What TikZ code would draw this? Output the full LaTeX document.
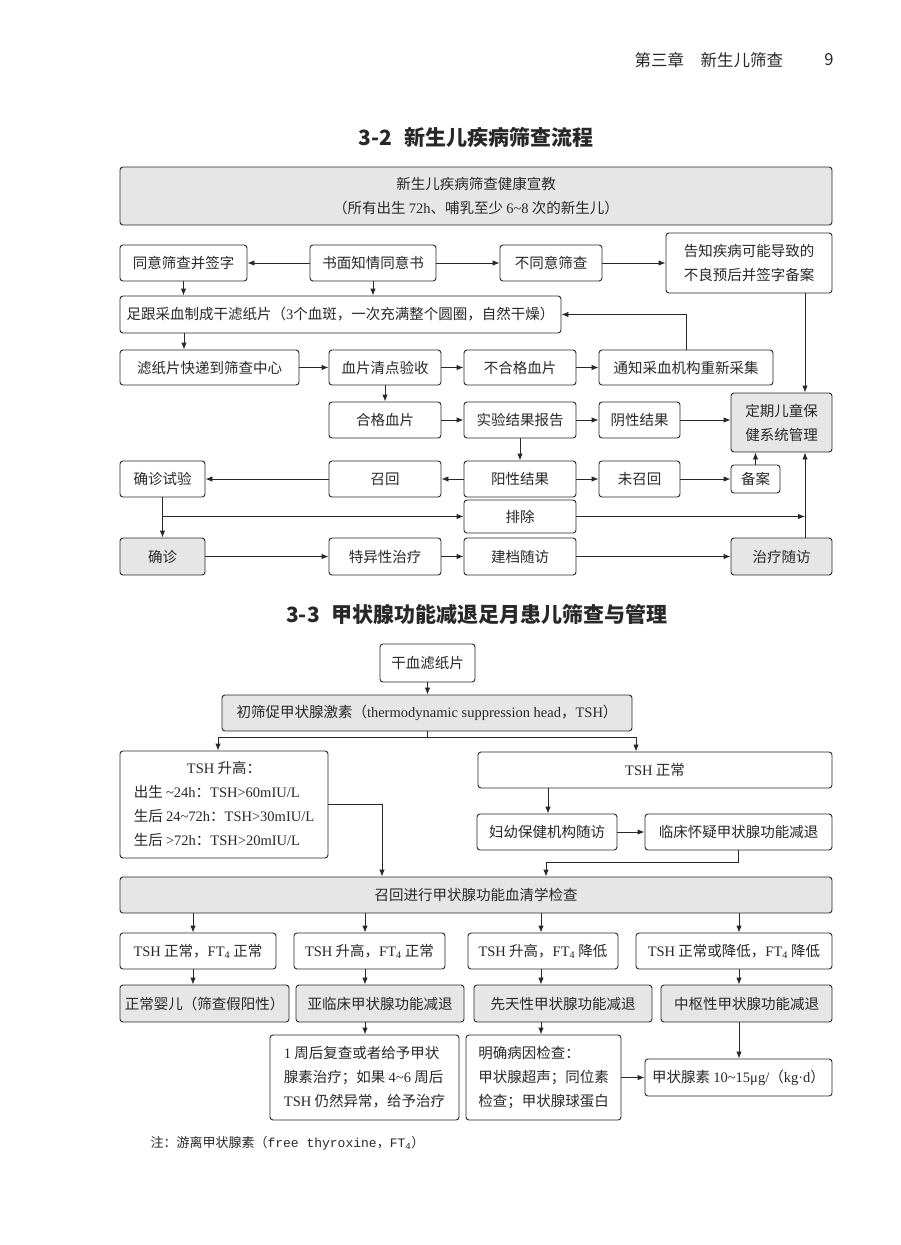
\documentclass[tikz,border=0pt]{standalone}
\usepackage{fontspec}
\setmainfont{Noto Sans CJK SC}
\newfontfamily\lat{Liberation Serif}
\newfontfamily\mono{Liberation Mono}
\usetikzlibrary{arrows.meta}
\definecolor{boxgray}{RGB}{230,230,230}
\definecolor{ink}{RGB}{40,40,40}
\newcommand\bx[7]{\node[#6,minimum width={(#4)-(#2)},minimum height={(#5)-(#3)}] (#1) at ({((#2)+(#4))/2},{((#3)+(#5))/2}) {#7};}
\begin{document}
\begin{tikzpicture}[x=1pt,y=-1pt,
  box/.style={draw=ink,line width=0.9pt,rounded corners=3pt,fill=white,inner sep=2pt,
    font=\fontsize{14.5}{24}\selectfont,text=ink,align=center},
  gbox/.style={box,fill=boxgray},
  lbox/.style={box,align=left},
  arr/.style={draw=ink,line width=0.9pt,-{Latex[length=7pt,width=5.5pt]}},
  plain/.style={draw=ink,line width=0.9pt},
  ttl/.style={font=\bfseries\fontsize{21}{25}\selectfont,text=ink},
  hdrtext/.style={font=\fontsize{16.5}{20}\selectfont,text=ink}]
\fill[white] (0,0) rectangle (900,1245);
\useasboundingbox (0,0) rectangle (900,1245);
% helper x positions
\coordinate (x184) at (184,0);
\coordinate (x805) at (805,0);
\coordinate (x218) at (218,0);
\coordinate (x636) at (636,0);
\coordinate (x548) at (548,0);
\coordinate (x382) at (382,0);
\coordinate (c1) at (193,0);
\coordinate (c2) at (365,0);
\coordinate (c3) at (541,0);
\coordinate (c4) at (739,0);
% header
\node[hdrtext,anchor=west] (hdr) at (631,60) {第三章　新生儿筛查};
\node[hdrtext] (pg) at (829,60) {9};
% titles
\node[ttl] (title1) at (476,138) {3-2\hspace{12pt}新生儿疾病筛查流程};
\node[ttl] (title2) at (477,614) {3-3\hspace{12pt}甲状腺功能减退足月患儿筛查与管理};
% ---------- section 1 ----------
\bx{edu}{120}{167}{832}{225}{gbox}{新生儿疾病筛查健康宣教\\（所有出生 {\lat 72h}、哺乳至少 {\lat 6\textasciitilde 8} 次的新生儿）}
\bx{agree}{120}{245}{247}{281}{box}{同意筛查并签字}
\bx{consent}{310}{245}{436}{281}{box}{书面知情同意书}
\bx{disagree}{500}{245}{602}{281}{box}{不同意筛查}
\bx{inform}{666}{233}{832}{293}{box}{告知疾病可能导致的\\不良预后并签字备案}
\bx{heel}{120}{296}{561}{333}{box}{足跟采血制成干滤纸片（{\lat 3}个血斑，一次充满整个圆圈，自然干燥）}
\bx{express}{120}{350}{299}{385}{box}{滤纸片快递到筛查中心}
\bx{check}{329}{350}{441}{385}{box}{血片清点验收}
\bx{unq}{464}{350}{576}{385}{box}{不合格血片}
\bx{notify}{599}{350}{773}{385}{box}{通知采血机构重新采集}
\bx{qual}{329}{402}{441}{438}{box}{合格血片}
\bx{report}{464}{402}{576}{438}{box}{实验结果报告}
\bx{neg}{599}{402}{680}{438}{box}{阴性结果}
\bx{manage}{731}{393}{832}{452}{gbox}{定期儿童保\\健系统管理}
\bx{ctest}{120}{461}{205}{497}{box}{确诊试验}
\bx{recall}{329}{461}{441}{497}{box}{召回}
\bx{pos}{464}{461}{576}{497}{box}{阳性结果}
\bx{norecall}{599}{461}{680}{497}{box}{未召回}
\bx{record}{731}{465}{780}{493}{box}{备案}
\bx{exclude}{464}{500}{576}{533}{box}{排除}
\bx{diag}{120}{538}{205}{575}{gbox}{确诊}
\bx{spec}{329}{538}{441}{575}{box}{特异性治疗}
\bx{follow}{464}{538}{576}{575}{box}{建档随访}
\bx{treat}{731}{538}{832}{575}{gbox}{治疗随访}
% connectors section 1
\draw[arr] (consent.west) -- (agree.east);
\draw[arr] (consent.east) -- (disagree.west);
\draw[arr] (disagree.east) -- (inform.west |- disagree.east);
\draw[arr] (agree.south) -- (agree.south |- heel.north);
\draw[arr] (consent.south) -- (consent.south |- heel.north);
\draw[arr] (inform.south -| x805) -- (manage.north -| x805);
\draw[arr] (notify.north) |- (heel.east);
\draw[arr] (heel.south -| x184) -- (express.north -| x184);
\draw[arr] (express.east) -- (check.west);
\draw[arr] (check.east) -- (unq.west);
\draw[arr] (unq.east) -- (notify.west);
\draw[arr] (check.south) -- (qual.north);
\draw[arr] (qual.east) -- (report.west);
\draw[arr] (report.east) -- (neg.west);
\draw[arr] (neg.east) -- (neg.east -| manage.west);
\draw[arr] (report.south) -- (pos.north);
\draw[arr] (pos.west) -- (recall.east);
\draw[arr] (recall.west) -- (ctest.east);
\draw[arr] (pos.east) -- (norecall.west);
\draw[arr] (norecall.east) -- (record.west);
\draw[arr] (record.north) -- (record.north |- manage.south);
\draw[arr] (treat.north -| x805) -- (manage.south -| x805);
\draw[arr] (ctest.south) -- (diag.north);
\draw[arr] (ctest.south |- exclude.west) -- (exclude.west);
\draw[arr] (exclude.east) -- (exclude.east -| x805);
\draw[arr] (diag.east) -- (spec.west);
\draw[arr] (spec.east) -- (follow.west);
\draw[arr] (follow.east) -- (treat.west);
% ---------- section 2 ----------
\bx{dry}{380}{644}{475}{682}{box}{干血滤纸片}
\bx{init}{222}{695}{632}{731}{gbox}{初筛促甲状腺激素（{\lat thermodynamic suppression head}，{\lat TSH}）}
\bx{high}{120}{751}{328}{858}{box}{\begin{tabular}{@{}l@{}}\multicolumn{1}{@{}c@{}}{{\lat TSH} 升高：}\\出生 {\lat \textasciitilde 24h}：{\lat TSH>60mIU/L}\\生后 {\lat 24\textasciitilde 72h}：{\lat TSH>30mIU/L}\\生后 {\lat >72h}：{\lat TSH>20mIU/L}\end{tabular}}
\bx{normal}{478}{752}{832}{788}{box}{{\lat TSH} 正常}
\bx{mch}{477}{814}{617}{850}{box}{妇幼保健机构随访}
\bx{clin}{645}{814}{832}{850}{box}{临床怀疑甲状腺功能减退}
\bx{serum}{120}{877}{832}{913}{gbox}{召回进行甲状腺功能血清学检查}
\bx{r1}{120}{933}{276}{969}{box}{{\lat TSH} 正常，{\lat FT\textsubscript{4}} 正常}
\bx{r2}{294}{933}{445}{969}{box}{{\lat TSH} 升高，{\lat FT\textsubscript{4}} 正常}
\bx{r3}{468}{933}{618}{969}{box}{{\lat TSH} 升高，{\lat FT\textsubscript{4}} 降低}
\bx{r4}{636}{933}{832}{969}{box}{{\lat TSH} 正常或降低，{\lat FT\textsubscript{4}} 降低}
\bx{o1}{120}{985}{289}{1022}{gbox}{正常婴儿（筛查假阳性）}
\bx{o2}{296}{985}{464}{1022}{gbox}{亚临床甲状腺功能减退}
\bx{o3}{474}{985}{652}{1022}{gbox}{先天性甲状腺功能减退}
\bx{o4}{661}{985}{832}{1022}{gbox}{中枢性甲状腺功能减退}
\bx{t1}{270}{1035}{459}{1120}{lbox}{{\lat 1} 周后复查或者给予甲状\\腺素治疗；如果 {\lat 4\textasciitilde 6} 周后\\{\lat TSH} 仍然异常，给予治疗}
\bx{t2}{466}{1035}{621}{1120}{lbox}{明确病因检查：\\甲状腺超声；同位素\\检查；甲状腺球蛋白}
\bx{dose}{645}{1059}{832}{1096}{box}{甲状腺素 {\lat 10\textasciitilde 15μg/}（{\lat kg·d}）}
\node[anchor=west,font=\fontsize{13}{16}\selectfont,text=ink] (note) at (147,1143) {注：游离甲状腺素（{\mono free thyroxine}，{\mono FT\textsubscript{4}}）};
% connectors section 2
\coordinate (j1) at (427,737);
\coordinate (j2) at (546,862);
\draw[arr] (dry.south) -- (dry.south |- init.north);
\draw[plain] (init.south) -- (j1);
\draw[arr] (j1) -| (high.north -| x218);
\draw[arr] (j1) -| (normal.north -| x636);
\draw[arr] (normal.south -| x548) -- (mch.north -| x548);
\draw[arr] (mch.east) -- (clin.west);
\draw[arr] (high.east) -| (serum.north -| x382);
\draw[arr] (clin.south) |- (j2) -- (serum.north -| j2);
\foreach \c/\r/\o in {c1/r1/o1,c2/r2/o2,c3/r3/o3,c4/r4/o4}{
  \draw[arr] (serum.south -| \c) -- (\r.north -| \c);
  \draw[arr] (\r.south -| \c) -- (\o.north -| \c);
}
\draw[arr] (o2.south -| c2) -- (t1.north -| c2);
\draw[arr] (o3.south -| c3) -- (t2.north -| c3);
\draw[arr] (o4.south -| c4) -- (dose.north -| c4);
\draw[arr] (t2.east |- dose.west) -- (dose.west);
\end{tikzpicture}
\end{document}
